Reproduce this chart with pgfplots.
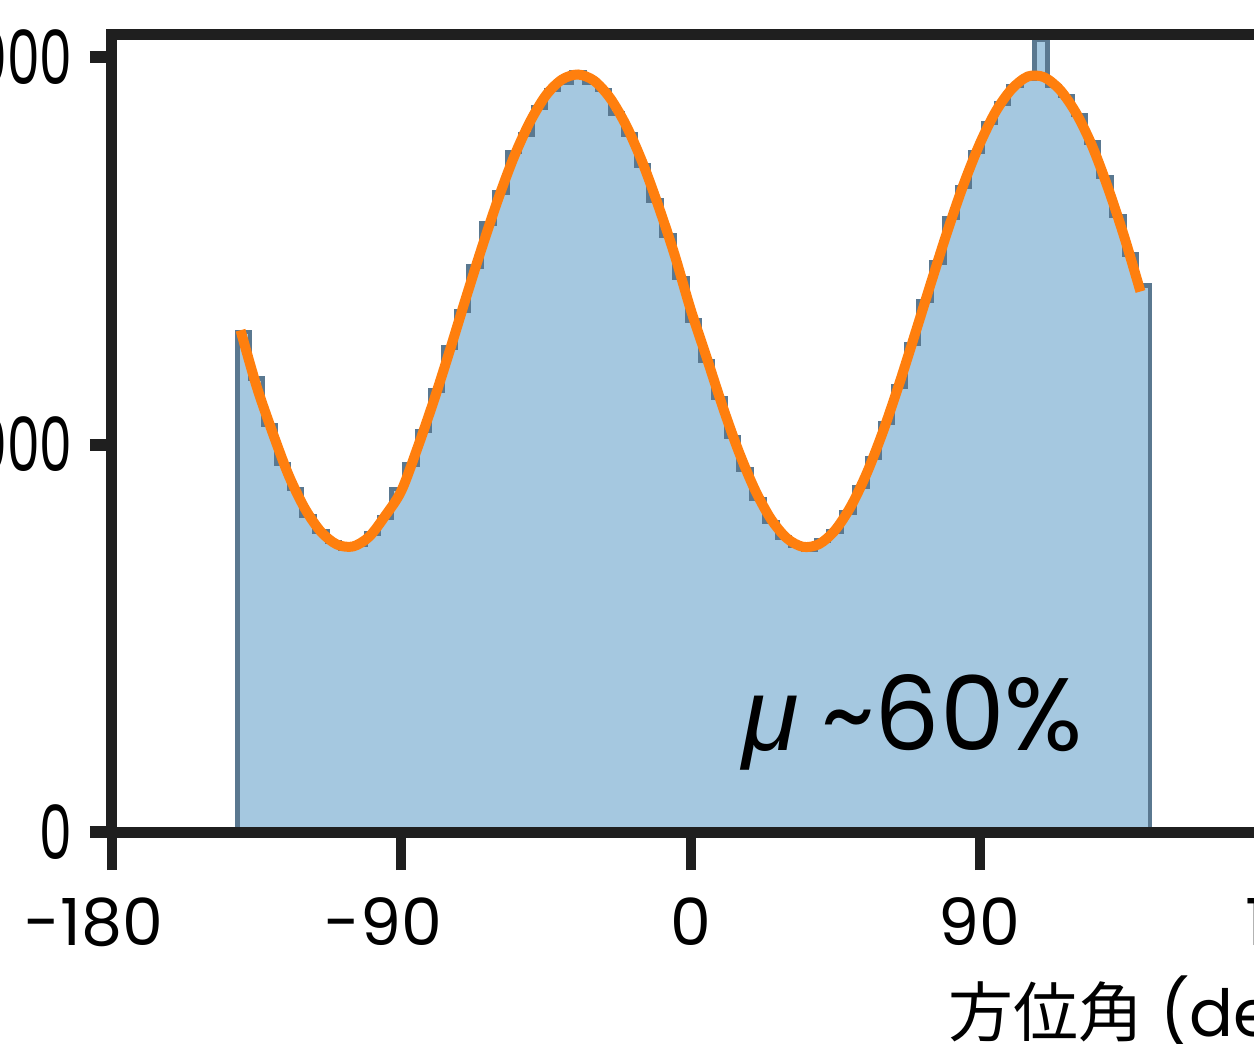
\documentclass[border=0pt]{standalone}
\usepackage{fontspec}
\setmainfont{Poppins}
\newfontfamily\cjk{Noto Sans CJK JP}
\newfontfamily\musans{Liberation Sans}
\usepackage{graphicx}
\usepackage{pgfplots}
\pgfplotsset{compat=1.18}
\definecolor{histfill}{HTML}{A5C8E0}
\definecolor{histedge}{HTML}{5A7890}
\definecolor{fitorange}{HTML}{FF7F0E}
\newcommand{\ylab}[1]{\scalebox{0.8}[1.15]{#1}}

\begin{document}
\begin{tikzpicture}
\begin{axis}[
 scale only axis, width=231.4pt, height=159.4pt,
 xmin=-180, xmax=180, ymin=0, ymax=2057,
 axis on top, clip=false,
 axis line style={line width=2.2pt, black!88},
 tick align=outside, xtick pos=bottom, ytick pos=left,
 major tick length=7.6pt,
 xtick={-180,-90,0,90,180},
 xticklabels={\llap{-}180,\llap{-}90,0,90,\hspace{11.2pt}180},
 xtick style={line width=2pt, black!88},
 xticklabel style={yshift=-2pt},
 ytick=\empty,
 extra y ticks={0,1000,2000},
 extra y tick labels={\ylab{0},\ylab{1000},\ylab{2000}},
 extra y tick style={major tick length=4.4pt, tick style={line width=2.4pt, black!88}},
 tick label style={font=\fontsize{13}{16}\selectfont},
 xlabel={{\cjk 方位角} (deg)},
 xlabel style={at={(axis description cs:0.7217,-0.256)}, anchor=base west,
   inner sep=0pt, font=\fontsize{13}{16}\selectfont},
]
\addplot[const plot, fill=histfill, draw=histedge, line width=0.9pt] coordinates {
 (-141,1290) (-137,1170) (-133,1050) (-129,950) (-125,885) (-121,815)
 (-117,775) (-113,748) (-109,730) (-105,742) (-101,770) (-97,812)
 (-93,885) (-89,948) (-85,1035) (-81,1140) (-77,1250) (-73,1345)
 (-69,1460) (-65,1570) (-61,1650) (-57,1755) (-53,1800) (-49,1870)
 (-45,1915) (-41,1935) (-37,1960) (-33,1935) (-29,1915) (-25,1855)
 (-21,1800) (-17,1720) (-13,1630) (-9,1540) (-5,1430) (-1,1320)
 (3,1215) (7,1120) (11,1020) (15,935) (19,860) (23,800)
 (27,760) (31,738) (35,728) (39,752) (43,775) (47,825)
 (51,890) (55,965) (59,1055) (63,1150) (67,1260) (71,1370)
 (75,1470) (79,1585) (83,1665) (87,1755) (91,1830) (95,1880)
 (99,1925) (103,1945) (107,2045) (111,1925) (115,1900) (119,1850)
 (123,1780) (127,1690) (131,1590) (135,1490) (139,1410) (143,1410)
} \closedcycle;
\addplot[fitorange, line width=2pt, smooth] coordinates {
 (-140,1295) (-135,1150) (-130,1030) (-125,920) (-120,835) (-115,775)
 (-110,742) (-105,737) (-100,762) (-95,816) (-90,880) (-85,990)
 (-80,1110) (-75,1240) (-70,1375) (-65,1506) (-60,1630) (-55,1741)
 (-50,1832) (-45,1901) (-40,1942) (-35,1955) (-30,1939) (-25,1894)
 (-20,1823) (-15,1729) (-10,1616) (-5,1491) (0,1350) (5,1225)
 (10,1098) (15,982) (20,884) (25,808) (30,758) (35,736)
 (40,743) (45,779) (50,842) (55,929) (60,1036) (65,1158)
 (70,1289) (75,1422) (80,1552) (85,1672) (90,1776) (95,1860)
 (100,1918) (105,1950) (110,1948) (115,1915) (120,1855) (125,1770)
 (130,1660) (135,1535) (140,1395)
};
\node[anchor=base west, inner sep=0pt, font=\fontsize{20.6}{24}\selectfont]
 at (axis cs:16,211) {{\musans\itshape μ}\hspace{4.4pt}\textasciitilde 60\%};
\end{axis}
\pgfresetboundingbox
\path[use as bounding box] (-22.4pt,-42.2pt) rectangle (228.4pt,166.4pt);
\end{tikzpicture}
\end{document}
